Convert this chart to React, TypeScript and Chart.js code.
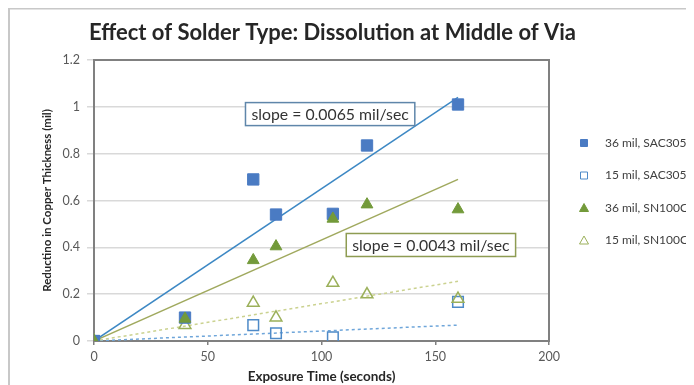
import React, { useEffect, useRef } from 'react';
import { Chart, registerables } from 'chart.js';

Chart.register(...registerables);

const chartTitle = 'Effect of Solder Type: Dissolution at Middle of Via';
const xAxisTitle = 'Exposure Time (seconds)';
const yAxisTitle = 'Reductino in Copper Thickness (mil)';

const seriesLabels = ['36 mil, SAC305', '15 mil, SAC305', '36 mil, SN100C', '15 mil, SN100C'];

const times36Sac = [0, 40, 70, 80, 105, 120, 160];
const values36Sac = [0, 0.1, 0.69, 0.54, 0.543, 0.835, 1.01];

const times15Sac = [0, 70, 80, 105, 160];
const values15Sac = [0, 0.068, 0.033, 0.016, 0.167];

const times36Sn = [0, 40, 70, 80, 105, 120, 160];
const values36Sn = [0, 0.095, 0.345, 0.404, 0.522, 0.583, 0.562];

const times15Sn = [0, 40, 70, 80, 105, 120, 160];
const values15Sn = [0, 0.068, 0.163, 0.1, 0.248, 0.199, 0.18];

const trendTimes = [0, 160];
const trend36Sac = [0, 1.04];
const trend15Sac = [0, 0.068];
const trend36Sn = [0, 0.69];
const trend15Sn = [0, 0.255];

const slopeLabels = ['slope = 0.0065 mil/sec', 'slope = 0.0043 mil/sec'];
const slopeLabelX = [103.8, 148.1];
const slopeLabelY = [0.969, 0.41];
const slopeBoxColors = ['#5F86AA', '#8E9C52'];

const xTicks = [0, 50, 100, 150, 200];
const yTicks = [0, 0.2, 0.4, 0.6, 0.8, 1, 1.2];

const FONT = 'Lato, "Open Sans", sans-serif';

const C_FILLED_SQ = '#4A7BC3';
const C_HOLLOW_SQ = '#4E8AC8';
const C_FILLED_TRI = '#739A3A';
const C_HOLLOW_TRI = '#9BB05A';

const pts = (xs: number[], ys: number[]) => xs.map((x, i) => ({ x, y: ys[i] }));

const legendStyles = [
  { shape: 'rect', fill: C_FILLED_SQ, stroke: C_FILLED_SQ },
  { shape: 'rect', fill: '#ffffff', stroke: C_HOLLOW_SQ },
  { shape: 'tri', fill: C_FILLED_TRI, stroke: C_FILLED_TRI },
  { shape: 'tri', fill: '#ffffff', stroke: C_HOLLOW_TRI },
];

const decorPlugin = {
  id: 'decor',
  beforeDatasetsDraw(chart: any) {
    const { ctx, chartArea: a } = chart;
    ctx.save();
    ctx.strokeStyle = '#808080';
    ctx.lineWidth = 2;
    ctx.strokeRect(a.left, a.top, a.right - a.left, a.bottom - a.top);
    ctx.restore();
  },
  afterDraw(chart: any) {
    const { ctx, chartArea: a, scales, width } = chart;
    const xs = scales.x;
    const ys = scales.y;
    ctx.save();
    // outer frame top line
    ctx.fillStyle = '#c8c8c8';
    ctx.fillRect(0, 0, width, 1.5);

    // title
    ctx.font = `bold 22px ${FONT}`;
    ctx.fillStyle = '#262626';
    ctx.textAlign = 'center';
    ctx.textBaseline = 'middle';
    ctx.fillText(chartTitle, (a.left + a.right) / 2 + 11, a.top - 27);

    // slope annotation boxes
    ctx.font = `15.8px ${FONT}`;
    slopeLabels.forEach((t, i) => {
      const px = xs.getPixelForValue(slopeLabelX[i]);
      const py = ys.getPixelForValue(slopeLabelY[i]);
      const w = ctx.measureText(t).width + 12;
      const h = 23;
      ctx.fillStyle = '#ffffff';
      ctx.fillRect(px - w / 2, py - h / 2, w, h);
      ctx.strokeStyle = slopeBoxColors[i];
      ctx.lineWidth = 1.5;
      ctx.strokeRect(px - w / 2, py - h / 2, w, h);
      ctx.fillStyle = '#333333';
      ctx.textAlign = 'center';
      ctx.fillText(t, px, py + 1);
    });

    // legend
    ctx.font = `12px ${FONT}`;
    ctx.textAlign = 'left';
    const top = a.top + 83;
    seriesLabels.forEach((t, i) => {
      const ly = top + i * 32.5;
      const mx = a.right + 35;
      const st = legendStyles[i];
      ctx.fillStyle = st.fill;
      ctx.strokeStyle = st.stroke;
      ctx.lineWidth = 1;
      ctx.beginPath();
      if (st.shape === 'rect') {
        ctx.rect(mx - 3.5, ly - 3.5, 7, 7);
      } else {
        ctx.moveTo(mx, ly - 4.5);
        ctx.lineTo(mx + 4.5, ly + 3.5);
        ctx.lineTo(mx - 4.5, ly + 3.5);
        ctx.closePath();
      }
      ctx.fill();
      ctx.stroke();
      ctx.fillStyle = '#404040';
      ctx.fillText(t, a.right + 56, ly);
    });
    ctx.restore();
  },
};

export default function App() {
  const ref = useRef<HTMLCanvasElement | null>(null);

  useEffect(() => {
    if (!ref.current) return;
    Chart.defaults.font.family = FONT;
    const chart = new Chart(ref.current, {
      type: 'scatter',
      data: {
        datasets: [
          {
            label: seriesLabels[2],
            data: pts(times36Sn, values36Sn),
            pointStyle: 'triangle',
            pointRadius: 6.8,
            backgroundColor: C_FILLED_TRI,
            borderColor: C_FILLED_TRI,
            borderWidth: 1,
            showLine: false,
          },
          {
            label: seriesLabels[0],
            data: pts(times36Sac, values36Sac),
            pointStyle: 'rect',
            pointRadius: 8,
            backgroundColor: C_FILLED_SQ,
            borderColor: C_FILLED_SQ,
            borderWidth: 1,
            showLine: false,
          },
          {
            label: seriesLabels[3],
            data: pts(times15Sn, values15Sn),
            pointStyle: 'triangle',
            pointRadius: 6.8,
            backgroundColor: 'rgba(255,255,255,0)',
            borderColor: C_HOLLOW_TRI,
            borderWidth: 1.5,
            showLine: false,
          },
          {
            label: seriesLabels[1],
            data: pts(times15Sac, values15Sac),
            pointStyle: 'rect',
            pointRadius: 7.5,
            backgroundColor: 'rgba(255,255,255,0)',
            borderColor: C_HOLLOW_SQ,
            borderWidth: 1.5,
            showLine: false,
          },
          {
            label: 'trend 36 SAC',
            data: pts(trendTimes, trend36Sac),
            showLine: true,
            pointRadius: 0,
            borderColor: '#3D88C4',
            borderWidth: 1.5,
          },
          {
            label: 'trend 36 SN',
            data: pts(trendTimes, trend36Sn),
            showLine: true,
            pointRadius: 0,
            borderColor: '#A0A95E',
            borderWidth: 1.5,
          },
          {
            label: 'trend 15 SN',
            data: pts(trendTimes, trend15Sn),
            showLine: true,
            pointRadius: 0,
            borderColor: '#CBD290',
            borderWidth: 1.5,
            borderDash: [3, 3],
          },
          {
            label: 'trend 15 SAC',
            data: pts(trendTimes, trend15Sac),
            showLine: true,
            pointRadius: 0,
            borderColor: '#6FA6DA',
            borderWidth: 1.5,
            borderDash: [3, 3],
          },
        ],
      },
      options: {
        animation: false,
        responsive: false,
        devicePixelRatio: 1,
        layout: { padding: { left: 0, right: 145, top: 52, bottom: 0 } },
        plugins: {
          legend: { display: false },
          title: { display: false },
          tooltip: { enabled: false },
        },
        scales: {
          x: {
            type: 'linear',
            min: 0,
            max: 200,
            afterBuildTicks: (s: any) => {
              s.ticks = xTicks.map((v) => ({ value: v }));
            },
            afterFit: (s: any) => {
              s.height = 44;
            },
            ticks: { color: '#595959', font: { size: 12.5 }, padding: 4, maxRotation: 0 },
            grid: { drawOnChartArea: false, drawTicks: true, tickLength: 4, color: '#808080', lineWidth: 1.5 },
            border: { display: true, color: '#808080', width: 2 },
            title: {
              display: true,
              text: xAxisTitle,
              color: '#262626',
              font: { size: 13.5, weight: 'bold' },
              padding: { top: 0, bottom: 0 },
            },
          },
          y: {
            type: 'linear',
            min: 0,
            max: 1.2,
            afterBuildTicks: (s: any) => {
              s.ticks = yTicks.map((v) => ({ value: v }));
            },
            afterFit: (s: any) => {
              s.width = 84;
            },
            ticks: {
              color: '#595959',
              font: { size: 12.5 },
              padding: 7,
              callback: (v: any) => String(Number(Number(v).toFixed(1))),
            },
            grid: { color: '#D9D9D9', lineWidth: 1.5, drawTicks: true, tickLength: 7 },
            border: { display: true, color: '#808080', width: 2 },
            title: {
              display: true,
              text: yAxisTitle,
              color: '#262626',
              font: { size: 11.5, weight: 'bold' },
              padding: { top: 30, bottom: 0 },
            },
          },
        },
      },
      plugins: [decorPlugin],
    });
    return () => chart.destroy();
  }, []);

  return (
    <div
      style={{
        width: 684,
        height: 377,
        borderLeft: '2px solid #c8c8c8',
        position: 'relative',
        overflow: 'hidden',
      }}
    >
      <canvas ref={ref} width={684} height={377} style={{ display: 'block' }} />
    </div>
  );
}
